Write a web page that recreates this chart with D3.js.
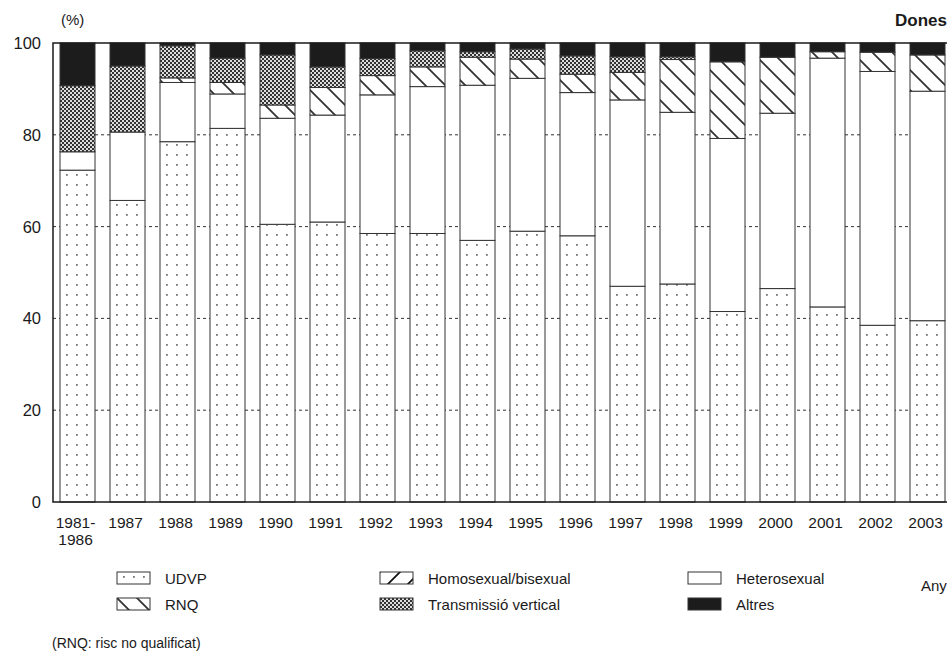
<!DOCTYPE html>
<html>
<head>
<meta charset="utf-8">
<script src="https://cdn.jsdelivr.net/npm/d3@7"></script>
<style>
  body { margin: 0; background: #fff; }
  text { font-family: "Liberation Sans", Arial, sans-serif; fill: #1a1a1a; }
</style>
</head>
<body>
<div id="chart"></div>
<script>
const width = 947;
const height = 655;

// Data (percentages per year)
const years = ["1981-1986", "1987", "1988", "1989", "1990", "1991", "1992", "1993", "1994",
  "1995", "1996", "1997", "1998", "1999", "2000", "2001", "2002", "2003"];
const udvp         = [72.3, 65.7, 78.5, 81.4, 60.5, 61.0, 58.5, 58.5, 57.0, 59.0, 58.0, 47.0, 47.5, 41.5, 46.5, 42.5, 38.5, 39.5];
const heterosexual = [ 4.0, 14.9, 12.9,  7.5, 23.1, 23.3, 30.2, 32.0, 33.8, 33.3, 31.2, 40.6, 37.4, 37.7, 38.2, 54.2, 55.3, 50.0];
const rnq          = [ 0.0,  0.0,  1.0,  2.5,  2.9,  6.0,  4.2,  4.3,  6.1,  4.2,  4.0,  6.0, 11.5, 16.7, 12.2,  1.4,  4.2,  7.9];
const homosexual   = [ 0.0,  0.0,  0.0,  0.0,  0.0,  0.0,  0.0,  0.0,  0.0,  0.0,  0.0,  0.0,  0.0,  0.0,  0.0,  0.0,  0.0,  0.0];
const vertical     = [14.4, 14.4,  7.0,  5.3, 10.9,  4.5,  3.7,  3.5,  1.2,  2.2,  4.0,  3.4,  0.6,  0.0,  0.0,  0.0,  0.0,  0.0];
const altres       = [ 9.3,  5.0,  0.6,  3.3,  2.6,  5.2,  3.4,  1.7,  1.9,  1.3,  2.8,  3.0,  3.0,  4.1,  3.1,  1.9,  2.0,  2.6];
const yTicks = [0, 20, 40, 60, 80, 100];

const keys = ["udvp", "heterosexual", "rnq", "homosexual", "vertical", "altres"];
const series = { udvp, heterosexual, rnq, homosexual, vertical, altres };
const data = years.map((y, i) => {
  const row = { year: y };
  keys.forEach(k => row[k] = series[k][i]);
  return row;
});

const svg = d3.select("#chart")
  .append("svg")
    .attr("width", width)
    .attr("height", height);

// Patterns
const defs = svg.append("defs");
const pDots = defs.append("pattern")
  .attr("id", "p-udvp").attr("patternUnits", "userSpaceOnUse")
  .attr("width", 10).attr("height", 10).attr("x", 2).attr("y", 0);
pDots.append("rect").attr("width", 10).attr("height", 10).attr("fill", "#fff");
pDots.append("rect").attr("x", 4).attr("y", 4).attr("width", 1.8).attr("height", 1.8).attr("fill", "#777");

const pRnq = defs.append("pattern")
  .attr("id", "p-rnq").attr("patternUnits", "userSpaceOnUse")
  .attr("width", 20).attr("height", 20);
pRnq.append("rect").attr("width", 20).attr("height", 20).attr("fill", "#fff");
pRnq.append("path").attr("d", "M-5,-5L25,25M-5,15L5,25M15,-5L25,5")
  .attr("stroke", "#333").attr("stroke-width", 1.8);

const pHomo = defs.append("pattern")
  .attr("id", "p-homo").attr("patternUnits", "userSpaceOnUse")
  .attr("width", 20).attr("height", 20);
pHomo.append("rect").attr("width", 20).attr("height", 20).attr("fill", "#fff");
pHomo.append("path").attr("d", "M-5,25L25,-5M-5,5L5,-5M15,25L25,15")
  .attr("stroke", "#111").attr("stroke-width", 1.8);

const pVert = defs.append("pattern")
  .attr("id", "p-vert").attr("patternUnits", "userSpaceOnUse")
  .attr("width", 4).attr("height", 4);
pVert.append("rect").attr("width", 4).attr("height", 4).attr("fill", "#ddd");
pVert.append("rect").attr("width", 2).attr("height", 2).attr("fill", "#333");
pVert.append("rect").attr("x", 2).attr("y", 2).attr("width", 2).attr("height", 2).attr("fill", "#333");

const fills = {
  udvp: "url(#p-udvp)",
  heterosexual: "#fff",
  rnq: "url(#p-rnq)",
  homosexual: "url(#p-homo)",
  vertical: "url(#p-vert)",
  altres: "#1c1c1c"
};

// Scales
const xScale = d3.scaleBand()
  .domain(years)
  .range([52.5, 952.5])
  .paddingInner(0.3)
  .paddingOuter(0.15);

const yScale = d3.scaleLinear()
  .domain([0, 100])
  .range([502, 43]);

// Gridlines
svg.append("g")
    .attr("class", "grid")
  .selectAll("line")
  .data(yTicks.filter(d => d > 0 && d < 100))
  .join("line")
    .attr("x1", 53)
    .attr("x2", width)
    .attr("y1", d => yScale(d))
    .attr("y2", d => yScale(d))
    .attr("stroke", "#333")
    .attr("stroke-dasharray", "3,3");

// Stacked bars
const stacked = d3.stack().keys(keys)(data);
svg.append("g")
    .attr("class", "bars")
  .selectAll("g")
  .data(stacked)
  .join("g")
    .attr("fill", d => fills[d.key])
  .selectAll("rect")
  .data(d => d.filter(s => s[1] - s[0] > 0))
  .join("rect")
    .attr("x", d => xScale(d.data.year))
    .attr("y", d => yScale(d[1]))
    .attr("width", xScale.bandwidth())
    .attr("height", d => yScale(d[0]) - yScale(d[1]))
    .attr("stroke", "#333")
    .attr("stroke-width", 1);

// Frame
svg.append("path")
  .attr("d", `M${width},${yScale(100)}H53V${yScale(0)}H${width}`)
  .attr("fill", "none")
  .attr("stroke", "#1a1a1a")
  .attr("stroke-width", 1.5);

// Y labels
svg.append("g")
  .selectAll("text")
  .data(yTicks)
  .join("text")
    .attr("x", 41)
    .attr("y", d => yScale(d) + 6)
    .attr("text-anchor", "end")
    .attr("font-size", 16.5)
    .text(d => d);

// X labels
const xLabels = svg.append("g")
  .selectAll("text")
  .data(years)
  .join("text")
    .attr("transform", d => `translate(${xScale(d) + xScale.bandwidth() / 2 - 2}, 528)`)
    .attr("text-anchor", "middle")
    .attr("font-size", 15.5);
xLabels.each(function(d) {
  const parts = d.includes("-") ? [d.split("-")[0] + "-", d.split("-")[1]] : [d];
  parts.forEach((p, i) => {
    d3.select(this).append("tspan")
      .attr("x", 0)
      .attr("dy", i === 0 ? 0 : 17)
      .text(p);
  });
});

svg.append("text")
  .attr("x", 61).attr("y", 25)
  .attr("font-size", 15)
  .text("(%)");

svg.append("text")
  .attr("x", 947).attr("y", 26)
  .attr("text-anchor", "end")
  .attr("font-size", 17)
  .attr("font-weight", "bold")
  .text("Dones");

svg.append("text")
  .attr("x", 921).attr("y", 591)
  .attr("font-size", 15)
  .text("Any");

// Legend
const legendItems = [
  { key: "udvp", label: "UDVP", col: 0, row: 0 },
  { key: "rnq", label: "RNQ", col: 0, row: 1 },
  { key: "homosexual", label: "Homosexual/bisexual", col: 1, row: 0 },
  { key: "vertical", label: "Transmissió vertical", col: 1, row: 1 },
  { key: "heterosexual", label: "Heterosexual", col: 2, row: 0 },
  { key: "altres", label: "Altres", col: 2, row: 1 }
];
const colX = [117, 380, 688];
const legend = svg.append("g")
  .selectAll("g")
  .data(legendItems)
  .join("g")
    .attr("transform", d => `translate(${colX[d.col]}, ${572 + d.row * 26})`);
legend.append("rect")
  .attr("width", 33).attr("height", 12)
  .attr("fill", d => fills[d.key])
  .attr("stroke", "#333");
legend.append("text")
  .attr("x", 48).attr("y", 12)
  .attr("font-size", 15)
  .text(d => d.label);

svg.append("text")
  .attr("x", 52).attr("y", 648)
  .attr("font-size", 14)
  .text("(RNQ: risc no qualificat)");
</script>
</body>
</html>
